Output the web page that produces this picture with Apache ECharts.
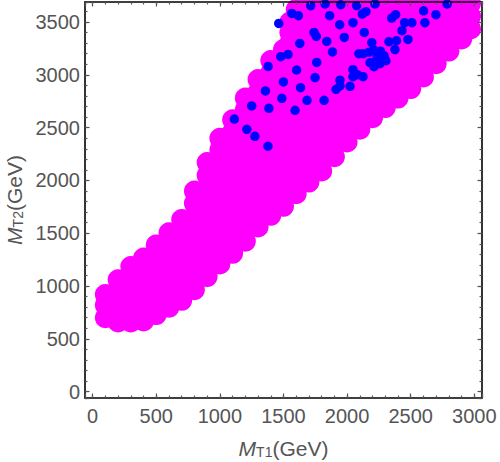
<!DOCTYPE html>
<html>
<head>
<meta charset="utf-8">
<script src="https://cdn.jsdelivr.net/npm/echarts@6/dist/echarts.min.js"></script>
<style>html,body{margin:0;padding:0;background:#fff}#c{width:500px;height:462px}</style>
</head>
<body>
<div id="c"></div>
<script>
// ---- data ----
// magenta region: scan columns of M_T1 and the M_T2 values found in each column
const magentaColumnsX = [100, 200, 300, 400, 500, 600, 700, 800, 900, 1000, 1100, 1200, 1300, 1400, 1500, 1550, 1600, 1700, 1800, 1900, 2000, 2100, 2200, 2300, 2400, 2500, 2600, 2700, 2800, 2900, 2970];
const magentaColumnsY = [
  [700, 820, 920],
  [660, 760, 860, 960, 1060],
  [660, 765, 870, 975, 1080, 1185],
  [670, 790, 910, 1030, 1150, 1265],
  [730, 840, 950, 1060, 1170, 1280, 1390],
  [800, 920, 1035, 1150, 1270, 1390, 1505],
  [865, 975, 1085, 1195, 1305, 1415, 1525, 1630],
  [965, 1080, 1200, 1315, 1435, 1550, 1670, 1785, 1900],
  [1090, 1210, 1330, 1450, 1570, 1690, 1810, 1930, 2050, 2170],
  [1210, 1330, 1450, 1570, 1690, 1810, 1930, 2050, 2170, 2290, 2400],
  [1310, 1425, 1540, 1655, 1770, 1885, 2000, 2115, 2230, 2345, 2460, 2575],
  [1425, 1540, 1650, 1765, 1880, 1990, 2105, 2220, 2330, 2445, 2555, 2670, 2780],
  [1560, 1675, 1790, 1910, 2025, 2140, 2255, 2370, 2490, 2605, 2720, 2835, 2955],
  [1670, 1780, 1895, 2005, 2120, 2230, 2345, 2460, 2570, 2685, 2795, 2910, 3020, 3135],
  [1755, 1870, 1985, 2100, 2215, 2325, 2440, 2555, 2670, 2785, 2900, 3015, 3130, 3240],
  [3300, 3400, 3500],
  [1875, 1990, 2110, 2225, 2340, 2455, 2575, 2690, 2805, 2920, 3040, 3155, 3270, 3390, 3505, 3620],
  [1985, 2105, 2225, 2345, 2465, 2590, 2710, 2830, 2950, 3070, 3190, 3315, 3435, 3555, 3675],
  [2090, 2210, 2335, 2455, 2575, 2700, 2820, 2945, 3065, 3185, 3310, 3430, 3555, 3675],
  [2225, 2345, 2465, 2590, 2710, 2830, 2950, 3070, 3190, 3315, 3435, 3555, 3675],
  [2365, 2485, 2605, 2720, 2840, 2960, 3080, 3200, 3320, 3435, 3555, 3675],
  [2485, 2605, 2725, 2845, 2960, 3080, 3200, 3320, 3440, 3555, 3675],
  [2595, 2715, 2835, 2955, 3075, 3195, 3315, 3435, 3555, 3675],
  [2690, 2815, 2935, 3060, 3185, 3305, 3430, 3550, 3675],
  [2780, 2890, 3005, 3115, 3230, 3340, 3450, 3565, 3675],
  [2870, 2985, 3100, 3215, 3330, 3445, 3560, 3675],
  [2980, 3095, 3210, 3330, 3445, 3560, 3675],
  [3105, 3220, 3335, 3445, 3560, 3675],
  [3225, 3340, 3450, 3560, 3675],
  [3340, 3450, 3565, 3675],
  [3435, 3555, 3675]
];
// blue points
const blueX = [1714, 1827, 1950, 2075, 2219, 2786, 1565, 1617, 1463, 1863, 1942, 2046, 2119, 2148, 2350, 2381, 2452, 2509, 2601, 2698, 2611, 2431, 1740, 1758, 1978, 2135, 1840, 1628, 2329, 2388, 2478, 2194, 2376, 1885, 1536, 1479, 2093, 2127, 2172, 2211, 2262, 2290, 2305, 2235, 2180, 2258, 2211, 1761, 1379, 1603, 2046, 1748, 2046, 2080, 2125, 1944, 1499, 1944, 1913, 2023, 1634, 1358, 1487, 1685, 1819, 1250, 1385, 1591, 1212, 1275, 1378, 1114];
const blueY = [3655, 3671, 3664, 3655, 3671, 3671, 3582, 3560, 3487, 3560, 3475, 3494, 3576, 3598, 3538, 3570, 3494, 3494, 3607, 3570, 3494, 3418, 3402, 3364, 3355, 3402, 3317, 3298, 3314, 3324, 3336, 3305, 3240, 3217, 3194, 3172, 3201, 3201, 3215, 3234, 3224, 3182, 3134, 3163, 3115, 3106, 3078, 3118, 3080, 3046, 3049, 2974, 2983, 3002, 2983, 2950, 2933, 2895, 2863, 2891, 2879, 2848, 2778, 2759, 2759, 2706, 2683, 2664, 2484, 2418, 2324, 2581];
// tick labels
const xTickLabels = [0, 500, 1000, 1500, 2000, 2500, 3000];
const yTickLabels = [0, 500, 1000, 1500, 2000, 2500, 3000, 3500];

// ---- build ----
const magentaData = [];
magentaColumnsX.forEach((x, i) => magentaColumnsY[i].forEach(y => magentaData.push({ value: [x, y], itemStyle: { opacity: 1 } })));
const blueData = blueX.map((x, i) => ({ value: [x, blueY[i]], itemStyle: { opacity: 1 } }));

const FONT = 'Liberation Sans';
const LABEL_COLOR = '#555';
const TICK_COLOR = '#555';
const MAGENTA = '#ff00ff';
const BLUE = '#0000ff';
const XMIN = -60, XMAX = 3060, YMIN = -60, YMAX = 3690;

const frameLine = { show: true, onZero: false, lineStyle: { color: '#000', width: 1.6 } };
const richName = {
  m: { fontFamily: FONT, fontSize: 21, fontStyle: 'italic', color: LABEL_COLOR },
  s: { fontFamily: FONT, fontSize: 14, color: LABEL_COLOR, verticalAlign: 'bottom', lineHeight: 12 },
  n: { fontFamily: FONT, fontSize: 21, color: LABEL_COLOR }
};

function axis(dim, pos, major, showLabel, showLine, labels, name) {
  const a = {
    type: 'value',
    position: pos,
    min: dim === 'x' ? XMIN : YMIN,
    max: dim === 'x' ? XMAX : YMAX,
    splitNumber: major ? (dim === 'x' ? 6 : 7) : (dim === 'x' ? 31 : 37),
    z: 10,
    axisLine: showLine ? frameLine : { show: false, onZero: false },
    axisTick: { show: true, inside: true, length: major ? 4.5 : 2.5, lineStyle: { color: TICK_COLOR, width: 1.2 } },
    axisLabel: showLabel ? {
      show: true,
      formatter: v => (labels.indexOf(v) >= 0 ? String(v) : ''),
      color: LABEL_COLOR, fontFamily: FONT, fontSize: 20, margin: dim === 'x' ? 8 : 5
    } : { show: false },
    splitLine: { show: false },
    minorTick: { show: false }
  };
  if (name) {
    a.name = name;
    a.nameLocation = 'middle';
    a.nameTextStyle = { rich: richName, fontFamily: FONT, fontSize: 21, color: LABEL_COLOR };
    if (dim === 'x') { a.nameGap = 40; } else { a.nameGap = 58; a.nameRotate = 90; }
  }
  return a;
}

const chart = echarts.init(document.getElementById('c'), null, { renderer: 'svg' });
chart.setOption({
  animation: false,
  backgroundColor: '#fff',
  grid: { left: 85, top: 2, width: 397, height: 396, containLabel: false, outerBoundsMode: 'none' },
  xAxis: [
    axis('x', 'bottom', true, true, true, xTickLabels, '{m|M}{s|T1}{n|(GeV)}'),
    axis('x', 'bottom', false, false, false),
    axis('x', 'top', true, false, true),
    axis('x', 'top', false, false, false)
  ],
  yAxis: [
    axis('y', 'left', true, true, true, yTickLabels, '{m|M}{s|T2}{n|(GeV)}'),
    axis('y', 'left', false, false, false),
    axis('y', 'right', true, false, true),
    axis('y', 'right', false, false, false)
  ],
  series: [
    {
      type: 'scatter', xAxisIndex: 0, yAxisIndex: 0,
      data: magentaData, symbol: 'circle', symbolSize: 21,
      itemStyle: { color: MAGENTA, opacity: 1, borderWidth: 0 },
      emphasis: { disabled: true }, silent: true
    },
    {
      type: 'scatter', xAxisIndex: 0, yAxisIndex: 0,
      data: blueData, symbol: 'circle', symbolSize: 9.5,
      itemStyle: { color: BLUE, opacity: 1, borderWidth: 0 },
      emphasis: { disabled: true }, silent: true
    }
  ]
});
</script>
</body>
</html>
